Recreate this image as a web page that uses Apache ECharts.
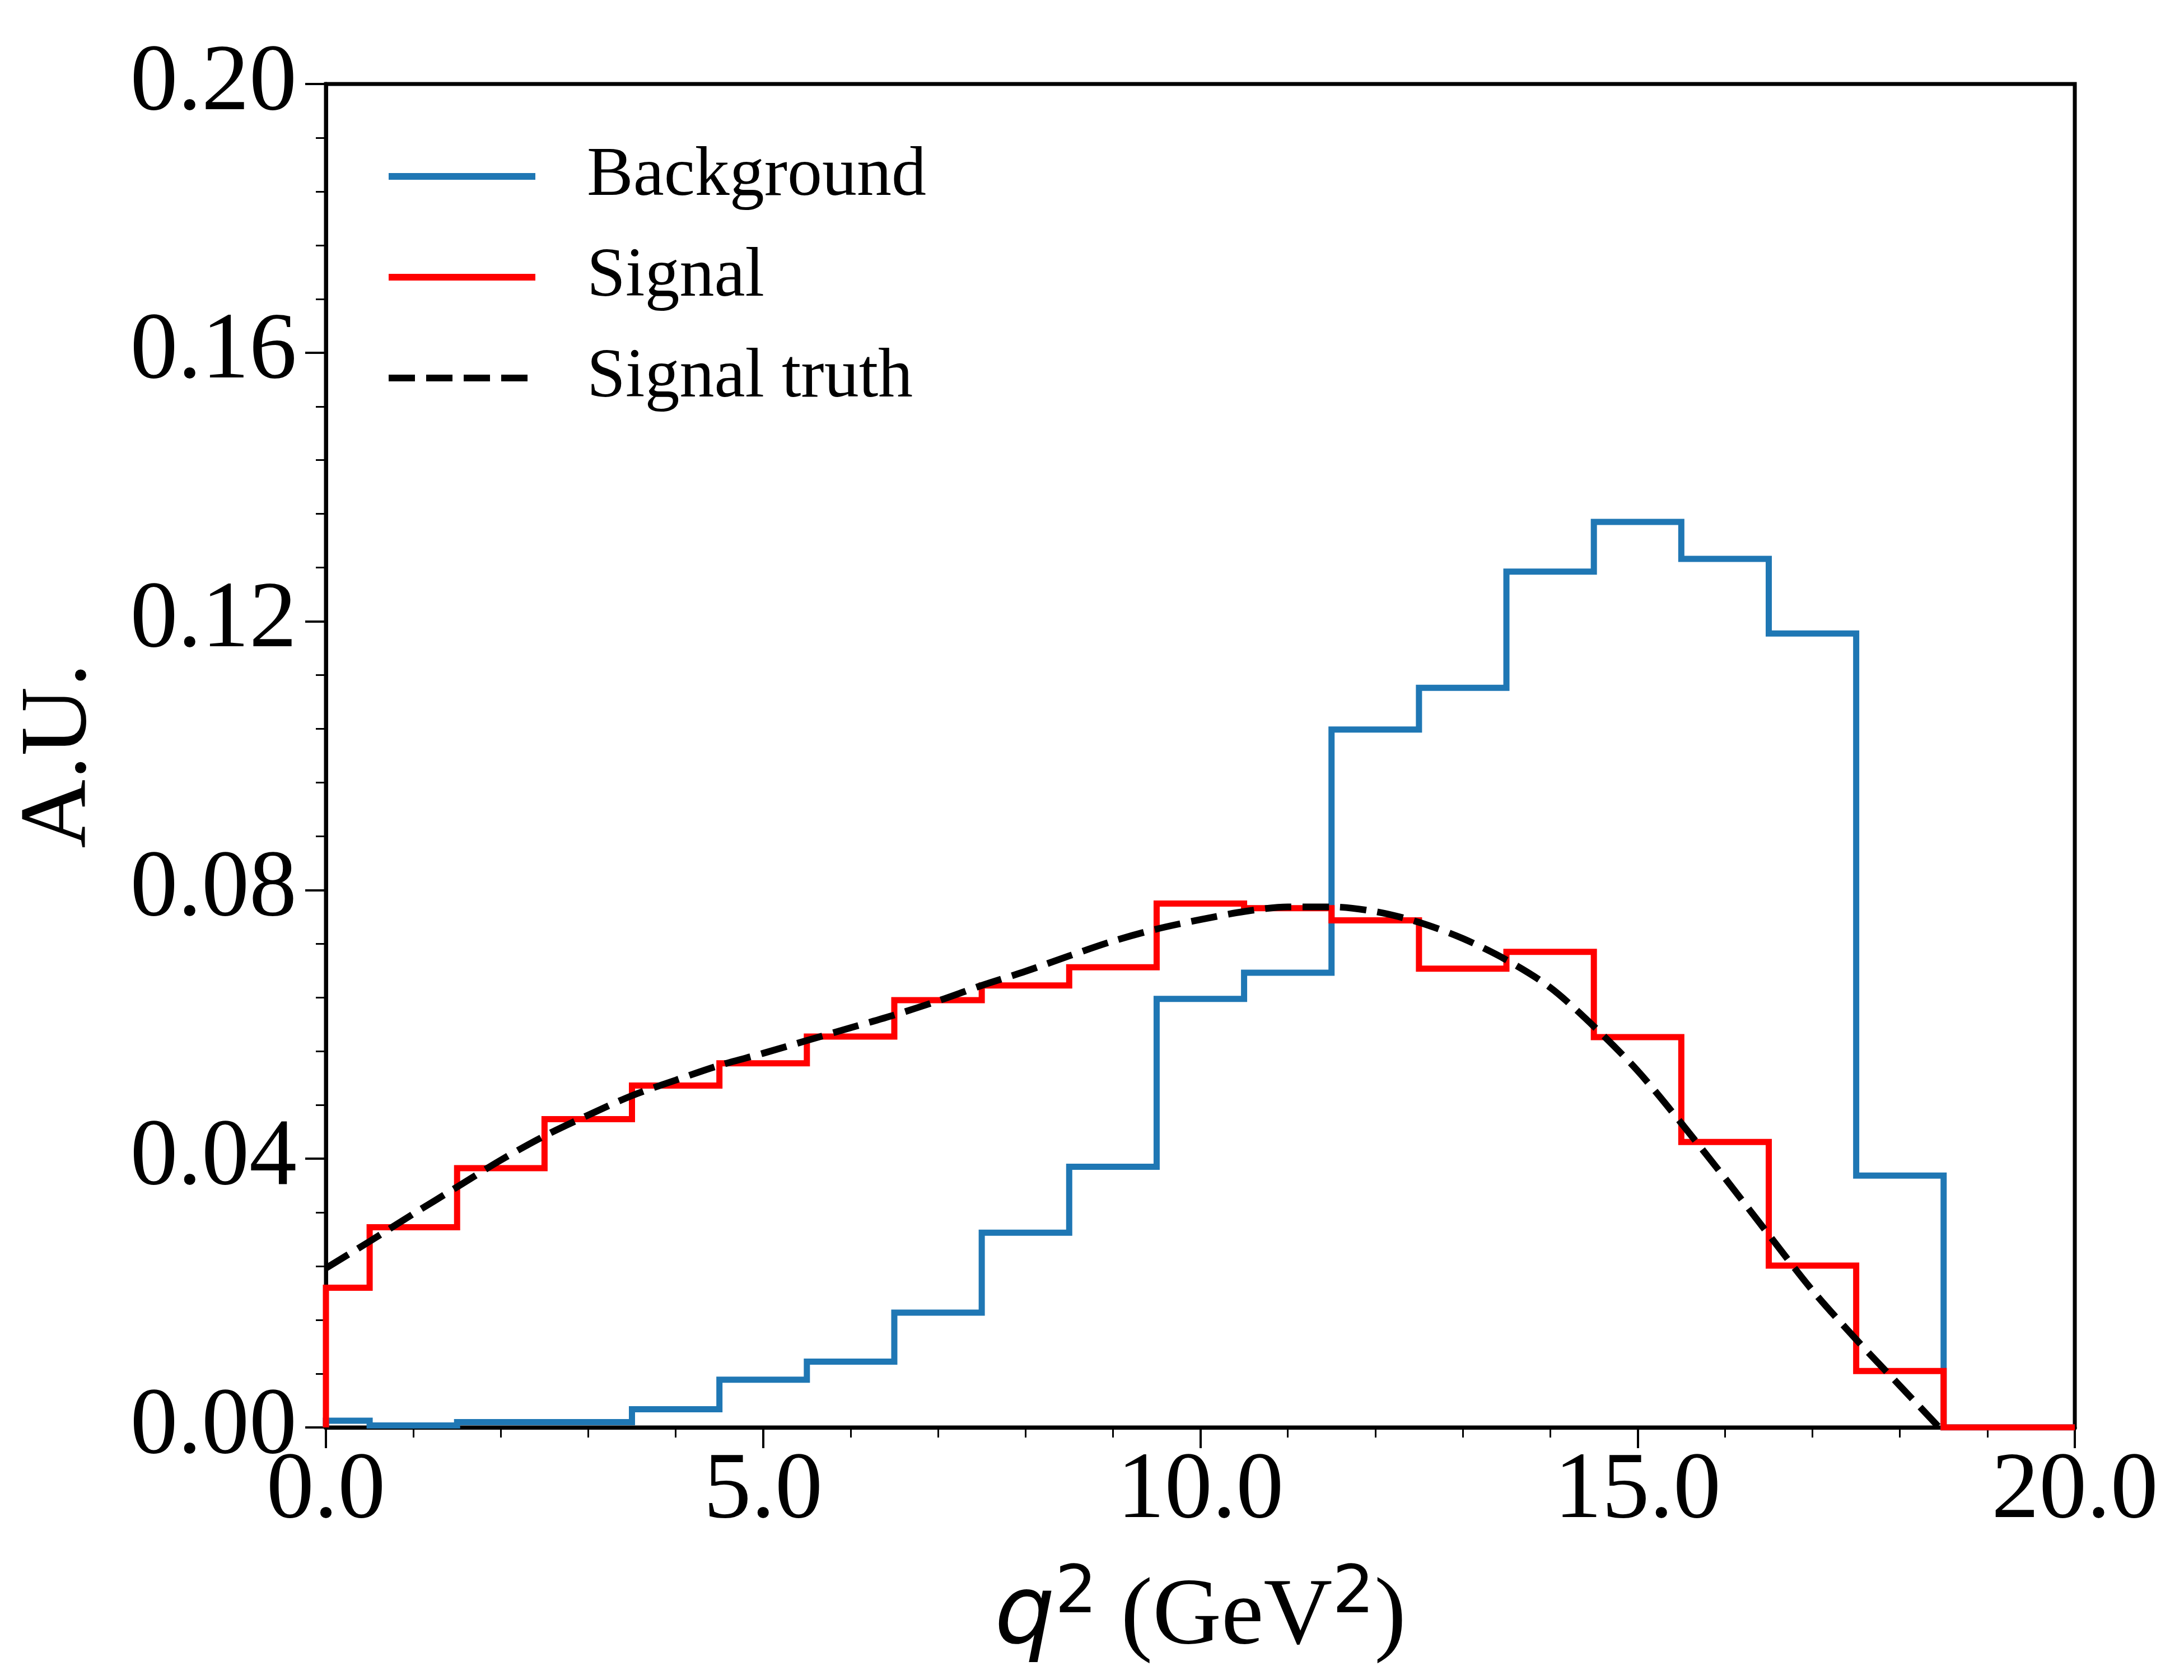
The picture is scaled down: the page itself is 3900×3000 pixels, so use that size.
<!DOCTYPE html>
<html><head><meta charset="utf-8">
<script src="https://cdn.jsdelivr.net/npm/echarts@6/dist/echarts.min.js"></script>
<style>html,body{margin:0;padding:0;background:#fff}#c{width:3900px;height:3000px}</style>
</head><body><div id="c"></div>
<script>
// Histogram bin edges (q^2 in GeV^2)
const binEdges = [0, 0.5, 1.5, 2.5, 3.5, 4.5, 5.5, 6.5, 7.5, 8.5, 9.5, 10.5, 11.5, 12.5, 13.5, 14.5, 15.5, 16.5, 17.5, 18.5, 19.5, 20];
// Bin contents (A.U.)
const background = [0.0010, 0.0003, 0.0008, 0.0008, 0.0027, 0.0071, 0.0098, 0.0171, 0.0290, 0.0388, 0.0638, 0.0677, 0.1039, 0.1101, 0.1274, 0.1348, 0.1293, 0.1182, 0.0375, 0, 0];
const signal = [0.0208, 0.0298, 0.0386, 0.0459, 0.0509, 0.0542, 0.0582, 0.0636, 0.0658, 0.0685, 0.0780, 0.0773, 0.0755, 0.0683, 0.0708, 0.0581, 0.0425, 0.0241, 0.0084, 0, 0];
// Signal truth curve samples
const truthQ2 = [0, 0.5, 1, 1.5, 2, 2.5, 3, 3.5, 4, 4.5, 5, 5.5, 6, 6.5, 7, 7.5, 8, 8.5, 9, 9.5, 10, 10.5, 11, 11.5, 12, 12.5, 13, 13.5, 14, 14.5, 15, 15.5, 16, 16.5, 17, 17.5, 18, 18.45];
const truthVals = [0.0237, 0.0277, 0.0318, 0.0358, 0.0398, 0.0434, 0.0465, 0.0494, 0.0517, 0.0539, 0.0557, 0.0576, 0.0595, 0.0614, 0.0635, 0.0658, 0.0679, 0.0702, 0.0724, 0.0742, 0.0756, 0.0768, 0.0775, 0.0775, 0.0768, 0.0752, 0.0728, 0.0696, 0.0655, 0.0597, 0.0531, 0.0453, 0.0371, 0.0287, 0.0204, 0.0131, 0.0062, 0];
const yTicks = [0, 0.04, 0.08, 0.12, 0.16, 0.20];
const xTicks = [0, 5, 10, 15, 20];

function stepPoints(edges, vals) {
  const pts = [[edges[0], 0]];
  for (let i = 0; i < vals.length; i++) {
    pts.push([edges[i], vals[i]]);
    pts.push([edges[i + 1], vals[i]]);
  }
  pts.push([edges[edges.length - 1], 0]);
  return pts;
}

const serif = 'Liberation Serif';
const chart = echarts.init(document.getElementById('c'), null, {renderer: 'canvas'});
chart.setOption({
  animation: false,
  backgroundColor: '#fff',
  grid: {left: 582, right: 195, top: 150, bottom: 451, show: true, borderColor: '#000', borderWidth: 7, containLabel: false},
  legend: {
    orient: 'vertical', left: 683, top: 248,
    itemWidth: 262, itemHeight: 124, itemGap: 56,
    lineStyle: {width: 12},
    itemStyle: {opacity: 0, borderWidth: 0},
    textStyle: {fontSize: 124, fontFamily: serif, color: '#000', lineHeight: 124, padding: [0, 0, 0, 87]},
    data: ['Background', 'Signal', 'Signal truth']
  },
  xAxis: {
    type: 'value', min: xTicks[0], max: xTicks[xTicks.length - 1], interval: 5,
    axisLine: {lineStyle: {color: '#000', width: 7}},
    axisTick: {show: true, length: 37, lineStyle: {color: '#000', width: 4}},
    minorTick: {show: true, splitNumber: 5, length: 18, lineStyle: {color: '#000', width: 3}},
    splitLine: {show: false}, minorSplitLine: {show: false},
    axisLabel: {formatter: v => v.toFixed(1), fontSize: 170, fontFamily: serif, color: '#000', margin: 30},
    name: '{q|q}{sup|2}{t| (GeV}{sup|2}{t|)}',
    nameLocation: 'middle', nameGap: 240,
    nameTextStyle: {
      rich: {
        q: {fontSize: 170, fontFamily: 'DejaVu Sans', fontStyle: 'italic', color: '#000', lineHeight: 200},
        t: {fontSize: 170, fontFamily: serif, color: '#000', lineHeight: 200},
        sup: {fontSize: 118, fontFamily: 'DejaVu Sans', color: '#000', lineHeight: 200, verticalAlign: 'top', padding: [0, 0, 0, 0]}
      }
    }
  },
  yAxis: {
    type: 'value', min: yTicks[0], max: yTicks[yTicks.length - 1], interval: 0.04,
    axisLine: {show: true, lineStyle: {color: '#000', width: 7}},
    axisTick: {show: true, length: 37, lineStyle: {color: '#000', width: 4}},
    minorTick: {show: true, splitNumber: 5, length: 18, lineStyle: {color: '#000', width: 3}},
    splitLine: {show: false}, minorSplitLine: {show: false},
    axisLabel: {formatter: v => v.toFixed(2), fontSize: 170, fontFamily: serif, color: '#000', margin: 52},
    name: 'A.U.', nameLocation: 'middle', nameGap: 390, nameRotate: 90,
    nameTextStyle: {fontSize: 170, fontFamily: serif, color: '#000'}
  },
  series: [
    {name: 'Background', type: 'line', data: stepPoints(binEdges, background), symbol: 'none', z: 3,
     color: '#1f77b4', lineStyle: {color: '#1f77b4', width: 11, join: 'miter'}},
    {name: 'Signal', type: 'line', data: stepPoints(binEdges, signal), symbol: 'none', z: 4,
     color: '#ff0000', lineStyle: {color: '#ff0000', width: 11, join: 'miter'}},
    {name: 'Signal truth', type: 'line', data: truthQ2.map((q, i) => [q, truthVals[i]]), symbol: 'none', z: 5, smooth: 0.3,
     color: '#000', lineStyle: {color: '#000', width: 12, type: [47, 20], cap: 'butt'}}
  ]
});
</script></body></html>
